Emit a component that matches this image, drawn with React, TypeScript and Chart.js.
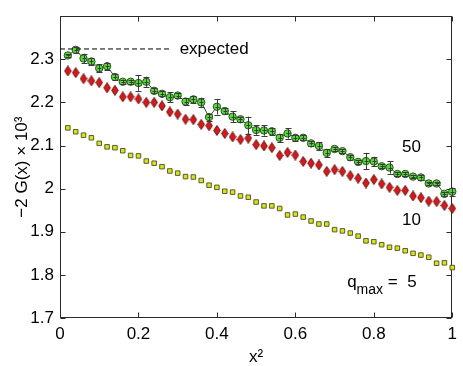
import React, { useEffect, useRef } from "react";
import { Chart, registerables } from "chart.js";

Chart.register(...registerables);

// x^2 values of the measured points
const X_VALUES = [
  0.02, 0.04, 0.06, 0.08, 0.1, 0.12, 0.14, 0.16, 0.18, 0.2,
  0.22, 0.24, 0.26, 0.28, 0.3, 0.32, 0.34, 0.36, 0.38, 0.4,
  0.42, 0.44, 0.46, 0.48, 0.5, 0.52, 0.54, 0.56, 0.58, 0.6,
  0.62, 0.64, 0.66, 0.68, 0.7, 0.72, 0.74, 0.76, 0.78, 0.8,
  0.82, 0.84, 0.86, 0.88, 0.9, 0.92, 0.94, 0.96, 0.98, 1.0,
];

// q_max = 50 (green circles with error bars)
const Q50 = [
  2.309, 2.322, 2.302, 2.295, 2.279, 2.284, 2.259, 2.248, 2.248, 2.245,
  2.248, 2.227, 2.220, 2.212, 2.216, 2.202, 2.207, 2.200, 2.166, 2.190,
  2.180, 2.167, 2.161, 2.147, 2.136, 2.135, 2.133, 2.118, 2.128, 2.118,
  2.118, 2.105, 2.099, 2.083, 2.092, 2.087, 2.073, 2.062, 2.064, 2.063,
  2.052, 2.049, 2.034, 2.034, 2.028, 2.026, 2.012, 2.012, 1.988, 1.993,
];
const Q50_ERR = [
  0.003, 0.007, 0.011, 0.008, 0.009, 0.008, 0.006, 0.005, 0.005, 0.018,
  0.012, 0.006, 0.006, 0.012, 0.006, 0.008, 0.008, 0.011, 0.008, 0.018,
  0.007, 0.013, 0.006, 0.020, 0.011, 0.012, 0.008, 0.009, 0.012, 0.007,
  0.006, 0.005, 0.009, 0.009, 0.005, 0.005, 0.006, 0.005, 0.019, 0.011,
  0.005, 0.014, 0.004, 0.004, 0.004, 0.005, 0.004, 0.004, 0.005, 0.009,
];

// q_max = 10 (red diamonds)
const Q10 = [
  2.273, 2.269, 2.255, 2.250, 2.246, 2.234, 2.228, 2.213, 2.213, 2.208,
  2.200, 2.200, 2.192, 2.178, 2.173, 2.161, 2.160, 2.149, 2.146, 2.135,
  2.128, 2.120, 2.114, 2.117, 2.102, 2.099, 2.095, 2.077, 2.084, 2.078,
  2.063, 2.059, 2.055, 2.040, 2.044, 2.040, 2.030, 2.024, 2.013, 2.021,
  2.011, 2.003, 1.996, 1.996, 1.983, 1.979, 1.971, 1.970, 1.961, 1.954,
];

// q_max = 5 (yellow squares)
const Q5 = [
  2.141, 2.132, 2.124, 2.118, 2.105, 2.097, 2.095, 2.088, 2.077, 2.076,
  2.064, 2.059, 2.051, 2.041, 2.036, 2.028, 2.027, 2.019, 2.008, 2.003,
  1.994, 1.992, 1.983, 1.980, 1.969, 1.960, 1.960, 1.954, 1.939, 1.941,
  1.934, 1.925, 1.918, 1.918, 1.905, 1.902, 1.897, 1.890, 1.879, 1.877,
  1.870, 1.864, 1.862, 1.856, 1.850, 1.846, 1.841, 1.827, 1.828, 1.817,
];

// expected value (dashed line)
const EXPECTED_VALUE = 2.324;
const EXPECTED_X = [0, 0.28];

// axis ranges / ticks
const X_MIN = 0;
const X_MAX = 1;
const X_STEP = 0.2;
const Y_MIN = 1.7;
const Y_MAX = 2.4;
const Y_STEP = 0.1;

// annotation texts and their data anchors
const LABEL_EXPECTED = { text: "expected", x: 0.305, y: EXPECTED_VALUE };
const LABEL_50 = { text: "50", x: 0.872, y: 2.085 };
const LABEL_10 = { text: "10", x: 0.872, y: 1.915 };
const LABEL_Q = { main: "q", sub: "max", rest: " =  5", x: 0.732, y: 1.772 };
const Y_TITLE = "\u22122 G(x) \u00d7 10\u00b3";
const X_TITLE = "x\u00b2";

const FONT = "'Liberation Sans', Arial, Helvetica, sans-serif";
const AXIS_COLOR = "#2a2a2a";

function makeDiamond(): HTMLCanvasElement {
  const c = document.createElement("canvas");
  c.width = 8;
  c.height = 11;
  const ctx = c.getContext("2d")!;
  ctx.beginPath();
  ctx.moveTo(4, 0.5);
  ctx.lineTo(7.3, 5.5);
  ctx.lineTo(4, 10.5);
  ctx.lineTo(0.7, 5.5);
  ctx.closePath();
  ctx.fillStyle = "#e01414";
  ctx.fill();
  ctx.strokeStyle = "#6a1a1a";
  ctx.lineWidth = 1;
  ctx.stroke();
  return c;
}

const fmt = (v: number) => String(Number(v.toFixed(1)));

const framePlugin = {
  id: "frame",
  beforeDatasetsDraw(chart: any) {
    const { ctx, chartArea } = chart;
    const xs = chart.scales.x;
    const ys = chart.scales.y;
    const L = Math.round(chartArea.left) + 0.5;
    const R = Math.round(chartArea.right) - 0.5;
    const T = Math.round(chartArea.top) + 0.5;
    const B = Math.round(chartArea.bottom) - 0.5;
    ctx.save();
    ctx.strokeStyle = AXIS_COLOR;
    ctx.lineWidth = 1;
    ctx.strokeRect(L, T, R - L, B - T);
    const tl = 5;
    ctx.beginPath();
    for (let v = X_MIN; v <= X_MAX + 1e-9; v += X_STEP) {
      const px = Math.round(xs.getPixelForValue(v)) + 0.5;
      ctx.moveTo(px, B);
      ctx.lineTo(px, B - tl);
      ctx.moveTo(px, T);
      ctx.lineTo(px, T + tl);
    }
    for (let v = Y_MIN; v <= Y_MAX + 1e-9; v += Y_STEP) {
      const py = Math.round(ys.getPixelForValue(v)) + 0.5;
      ctx.moveTo(L, py);
      ctx.lineTo(L + tl, py);
      ctx.moveTo(R, py);
      ctx.lineTo(R - tl, py);
    }
    ctx.stroke();
    ctx.restore();
  },
};

const overlayPlugin = {
  id: "overlay",
  afterDatasetsDraw(chart: any) {
    const { ctx, chartArea } = chart;
    const xs = chart.scales.x;
    const ys = chart.scales.y;
    ctx.save();
    // error bars for q_max = 50
    ctx.strokeStyle = "#3a3a3a";
    ctx.lineWidth = 1;
    ctx.beginPath();
    for (let i = 0; i < X_VALUES.length; i++) {
      const px = Math.round(xs.getPixelForValue(X_VALUES[i])) + 0.5;
      const top = ys.getPixelForValue(Q50[i] + Q50_ERR[i]);
      const bot = ys.getPixelForValue(Q50[i] - Q50_ERR[i]);
      const cy = ys.getPixelForValue(Q50[i]);
      ctx.moveTo(px, top);
      ctx.lineTo(px, bot);
      ctx.moveTo(px - 3, Math.round(top) + 0.5);
      ctx.lineTo(px + 3, Math.round(top) + 0.5);
      ctx.moveTo(px - 3, Math.round(bot) + 0.5);
      ctx.lineTo(px + 3, Math.round(bot) + 0.5);
      ctx.moveTo(px - 2, Math.round(cy) + 0.5);
      ctx.lineTo(px + 2, Math.round(cy) + 0.5);
    }
    ctx.stroke();

    // texts
    ctx.fillStyle = "#000";
    ctx.textAlign = "left";
    ctx.textBaseline = "middle";
    ctx.font = `17px ${FONT}`;
    ctx.fillText(
      LABEL_EXPECTED.text,
      xs.getPixelForValue(LABEL_EXPECTED.x),
      ys.getPixelForValue(LABEL_EXPECTED.y)
    );
    ctx.textBaseline = "alphabetic";
    ctx.fillText(LABEL_50.text, xs.getPixelForValue(LABEL_50.x), ys.getPixelForValue(LABEL_50.y));
    ctx.fillText(LABEL_10.text, xs.getPixelForValue(LABEL_10.x), ys.getPixelForValue(LABEL_10.y));

    let qx = xs.getPixelForValue(LABEL_Q.x);
    const qy = ys.getPixelForValue(LABEL_Q.y);
    ctx.font = `17px ${FONT}`;
    ctx.fillText(LABEL_Q.main, qx, qy);
    qx += ctx.measureText(LABEL_Q.main).width;
    ctx.font = `14px ${FONT}`;
    ctx.fillText(LABEL_Q.sub, qx, qy + 7);
    qx += ctx.measureText(LABEL_Q.sub).width;
    ctx.font = `17px ${FONT}`;
    ctx.fillText(LABEL_Q.rest, qx, qy);

    // axis titles
    const cx = (chartArea.left + chartArea.right) / 2;
    ctx.textAlign = "center";
    ctx.textBaseline = "alphabetic";
    ctx.fillText(X_TITLE, cx, chart.height - 4);

    const cyMid = (chartArea.top + chartArea.bottom) / 2;
    ctx.translate(22, cyMid);
    ctx.rotate(-Math.PI / 2);
    ctx.textBaseline = "middle";
    ctx.fillText(Y_TITLE, 0, 0);
    ctx.restore();
  },
};

export default function App() {
  const ref = useRef<HTMLCanvasElement | null>(null);

  useEffect(() => {
    document.body.style.margin = "0";
    const canvas = ref.current!;
    const diamond = makeDiamond();
    const pts = (ys: number[]) => X_VALUES.map((x, i) => ({ x, y: ys[i] }));

    const chart = new Chart(canvas, {
      type: "scatter",
      data: {
        datasets: [
          {
            label: "expected",
            data: EXPECTED_X.map((x) => ({ x, y: EXPECTED_VALUE })),
            showLine: true,
            borderColor: "#000",
            borderWidth: 1,
            borderDash: [5, 3],
            pointRadius: 0,
          },
          {
            label: "q_max = 5",
            data: pts(Q5),
            pointStyle: "rect",
            pointRadius: 3.2,
            pointBackgroundColor: "#d8e800",
            pointBorderColor: "#5a5a3a",
            pointBorderWidth: 1,
            showLine: false,
            clip: false,
          },
          {
            label: "q_max = 10",
            data: pts(Q10),
            pointStyle: diamond as any,
            pointRadius: 5,
            showLine: false,
            clip: false,
          },
          {
            label: "q_max = 50",
            data: pts(Q50),
            showLine: true,
            borderColor: "#404040",
            borderWidth: 1,
            pointStyle: "circle",
            pointRadius: 3.7,
            pointBackgroundColor: "#4ee024",
            pointBorderColor: "#2f4f2f",
            pointBorderWidth: 1,
            clip: false,
          },
        ],
      } as any,
      options: {
        animation: false,
        responsive: false,
        devicePixelRatio: 1,
        layout: { padding: { left: 0, right: 9, top: 13, bottom: 0 } },
        plugins: {
          legend: { display: false },
          tooltip: { enabled: false },
        },
        scales: {
          x: {
            type: "linear",
            min: X_MIN,
            max: X_MAX,
            grid: { display: false, drawTicks: false },
            border: { display: false },
            ticks: {
              stepSize: X_STEP,
              padding: 6,
              color: "#000",
              font: { family: FONT, size: 17 },
              callback: (v: any) => fmt(Number(v)),
              maxRotation: 0,
            },
            afterFit: (s: any) => {
              s.height = 48;
            },
          },
          y: {
            type: "linear",
            min: Y_MIN,
            max: Y_MAX,
            grid: { display: false, drawTicks: false },
            border: { display: false },
            ticks: {
              stepSize: Y_STEP,
              padding: 6,
              color: "#000",
              font: { family: FONT, size: 17 },
              callback: (v: any) => (Number(v) > 2.35 ? "" : fmt(Number(v))),
            },
            afterFit: (s: any) => {
              s.width = 60;
            },
          },
        },
      } as any,
      plugins: [framePlugin, overlayPlugin],
    });
    return () => chart.destroy();
  }, []);

  return (
    <div style={{ width: 463, height: 366, background: "#fff" }}>
      <canvas ref={ref} width={463} height={366} style={{ display: "block" }} />
    </div>
  );
}
